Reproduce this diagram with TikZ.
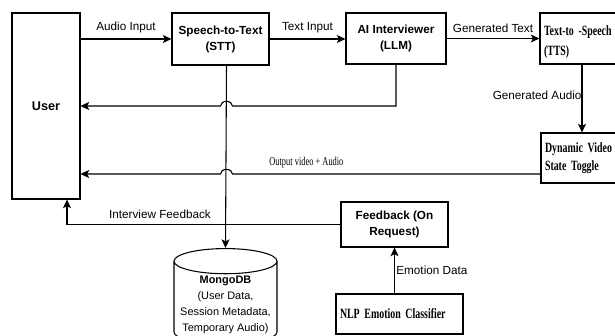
\documentclass[tikz,border=0pt]{standalone}
\usepackage{fontspec}
\setmainfont{Liberation Sans}
\newfontfamily\tnr[FakeStretch=0.7]{Liberation Serif}
\usetikzlibrary{arrows.meta,calc,shapes.geometric}

\begin{document}
\begin{tikzpicture}[x=0.75pt,y=-0.75pt,
    line width=0.8pt,
    box/.style={draw,rectangle,align=center,inner sep=2pt,font=\bfseries\fontsize{8.8}{12}\selectfont},
    serifbox/.style={draw,rectangle,align=left,inner xsep=3pt,inner ysep=0pt,font=\tnr\bfseries\fontsize{10.6}{15.5}\selectfont},
    lbl/.style={font=\fontsize{8.8}{10}\selectfont},
    flow/.style={-{Stealth[length=6.5pt,width=6pt,inset=1.5pt]}}]
    \useasboundingbox (0,0) rectangle (615,336);
    \clip (0,0) rectangle (615,336);
    % User
    \node[box,minimum width=51pt,minimum height=139.5pt,font=\bfseries\fontsize{9.5}{12}\selectfont] (User) at (46,106) {User};
    % Pipeline
    \node[box,minimum width=72.75pt,minimum height=39pt] (STT) at (220.5,39) {Speech-to-Text\\(STT)};
    \node[box,minimum width=75pt,minimum height=38.25pt] (LLM) at (396,38.5) {AI Interviewer\\(LLM)};
    \node[serifbox,text width=69pt,minimum height=38.25pt] (TTS) at (590,38.5) {\rule{0pt}{13pt}Text-to -Speech\\(TTS)};
    \node[serifbox,text width=69pt,minimum height=37.5pt,font=\tnr\bfseries\fontsize{10.6}{13.5}\selectfont] (DVT) at (591,158) {Dynamic Video\\State Toggle};
    % Feedback
    \node[box,minimum width=80.25pt,minimum height=33.75pt] (FB) at (394.5,224.5) {Feedback (On\\Request)};
    \node[serifbox,text width=89.25pt,minimum height=30pt] (NLP) at (399.5,314) {NLP Emotion Classifier};
    % Storage
    \node[draw,cylinder,shape border rotate=90,aspect=0.27,minimum width=77.25pt,minimum height=60pt,
          align=center,inner sep=1pt,font=\fontsize{8.2}{12}\selectfont] (Mongo) at (225.5,304.5)
          {\textbf{MongoDB}\\(User Data,\\Session Metadata,\\Temporary Audio)};
    \coordinate (sttout) at ([xshift=4.5pt]STT.south);
    \coordinate (outv) at ([yshift=-12pt]DVT.west);
    \coordinate (fbin) at ([xshift=15.75pt]User.south);
    % links
    \draw[flow] (STT.west -| User.east) -- node[lbl,above=1pt] {Audio Input} (STT.west);
    \draw[flow] (STT.east) -- node[lbl,above=1pt] {Text Input} (STT.east -| LLM.west);
    \draw[flow] (LLM.east) -- node[lbl,above=1pt] {Generated Text} (LLM.east -| TTS.west);
    \draw[flow] ([xshift=-6pt]TTS.south) -- node[lbl,left,inner xsep=0pt,pos=0.45] {Generated Audio} ([xshift=-6pt]TTS.south |- DVT.north);
    \draw[flow] (LLM.south) |- ($(User.east -| sttout)+(6,0)$)
        arc[start angle=0,end angle=180,x radius=4.5pt,y radius=3.5pt] -- (User.east);
    \draw[flow] (outv) -- node[pos=0.76,above=1pt,font=\tnr\fontsize{9}{9}\selectfont] {Output video + Audio} ($(outv -| sttout)+(6,0)$)
        arc[start angle=0,end angle=180,x radius=4.5pt,y radius=3.5pt] -- (User.east |- outv);
    \draw[flow] (sttout) -- (Mongo.top);
    \draw[flow] (FB.west) -| node[lbl,pos=0.33,above=1pt] {Interview Feedback} (fbin);
    \draw[flow] (FB.south |- NLP.north) -- node[lbl,right,inner xsep=1pt] {Emotion Data} (FB.south);
\end{tikzpicture}
\end{document}
